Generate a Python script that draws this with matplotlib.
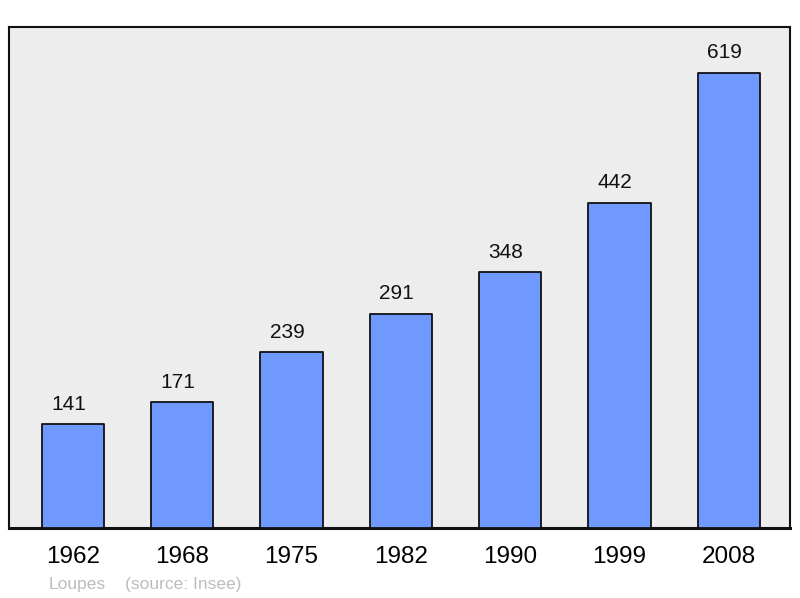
import matplotlib
matplotlib.use("Agg")
import matplotlib.pyplot as plt

years = ["1962", "1968", "1975", "1982", "1990", "1999", "2008"]
population = [141, 171, 239, 291, 348, 442, 619]
commune = "Loupes"
source = "(source: Insee)"

plt.rcParams['font.family'] = ['Liberation Sans', 'DejaVu Sans']

fig = plt.figure(figsize=(8, 5.98), dpi=100)
ax = fig.add_axes([9/800, 70/598, 781/800, 501/598])
ax.set_facecolor('#ededed')

x = list(range(len(years)))
bars = ax.bar(x, population, width=0.57, color='#7099ff', edgecolor='#111111', linewidth=1.3, zorder=3)
for b in bars:
    b.set_joinstyle('round')
for xi, v in zip(x, population):
    ax.annotate(str(v), (xi, v), xytext=(-3, 7.5), textcoords='offset points',
                ha='center', va='bottom', fontsize=15, color='#111111')

ax.set_xlim(-0.585, 6.56)
ax.set_ylim(0, max(population) * 1.1)
ax.set_yticks([])
ax.set_xticks(x)
ax.set_xticklabels(years, fontsize=17.5)
ax.tick_params(axis='x', length=0, pad=13)
for s in ['left', 'top', 'right']:
    ax.spines[s].set_linewidth(1.5)
    ax.spines[s].set_color('#111111')
ax.spines['bottom'].set_linewidth(2.2)
ax.spines['bottom'].set_color('#111111')

fig.text(49/800, 1 - 584/598, commune, fontsize=12.5, color='#bdbdbd', va='center', ha='left')
fig.text(125/800, 1 - 584/598, source, fontsize=12.5, color='#bdbdbd', va='center', ha='left')

fig.savefig('out.png', dpi=100, facecolor='white')
